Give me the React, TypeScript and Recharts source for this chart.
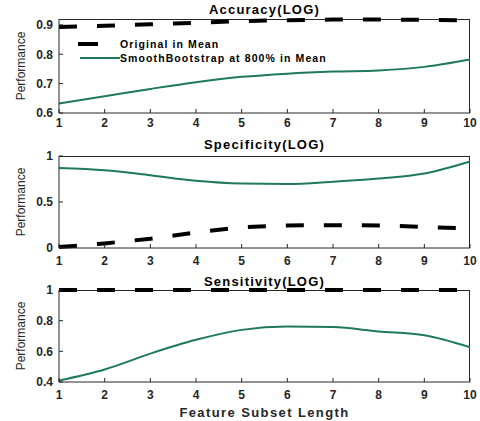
import React from 'react';
import { LineChart, Line, XAxis, YAxis } from 'recharts';

const featureLength = [1, 2, 3, 4, 5, 6, 7, 8, 9, 10];

const accOriginal = [0.893, 0.897, 0.902, 0.907, 0.913, 0.916, 0.918, 0.918, 0.917, 0.915];
const accSmooth = [0.632, 0.657, 0.682, 0.705, 0.723, 0.734, 0.741, 0.745, 0.757, 0.782];

const specOriginal = [0.01, 0.05, 0.1, 0.17, 0.225, 0.245, 0.248, 0.245, 0.23, 0.21];
const specSmooth = [0.87, 0.845, 0.79, 0.73, 0.7, 0.695, 0.72, 0.755, 0.81, 0.94];

const sensOriginal = [1, 1, 1, 1, 1, 1, 1, 1, 1, 1];
const sensSmooth = [0.41, 0.482, 0.585, 0.675, 0.74, 0.762, 0.758, 0.73, 0.705, 0.627];

const accTicks = [0.6, 0.7, 0.8, 0.9];
const specTicks = [0, 0.5, 1];
const sensTicks = [0.4, 0.6, 0.8, 1];

const GREEN = '#1f7a58';
const FONT = 'Arial, "Liberation Sans", Helvetica, sans-serif';

const toRows = (orig: number[], smooth: number[]) =>
  featureLength.map((x, i) => ({ x, orig: orig[i], smooth: smooth[i] }));

const tickStyle = { fontSize: 12, fontWeight: 700, fill: '#262626', fontFamily: FONT };

function LegendBox() {
  return (
    <div
      style={{
        position: 'absolute',
        left: 60,
        top: 37,
        fontFamily: FONT,
        fontSize: 10.5,
        fontWeight: 700,
        letterSpacing: 1.1,
        color: '#000',
        lineHeight: '14px',
        whiteSpace: 'nowrap',
      }}
    >
      <div style={{ display: 'flex', alignItems: 'center' }}>
        <div style={{ width: 20, height: 4, background: '#000', marginLeft: 18, marginRight: 22 }} />
        <span>Original in Mean</span>
      </div>
      <div style={{ display: 'flex', alignItems: 'center' }}>
        <div style={{ width: 40, height: 2, background: GREEN, marginLeft: 20 }} />
        <span>SmoothBootstrap at 800% in Mean</span>
      </div>
    </div>
  );
}

interface PanelProps {
  top: number;
  height: number;
  plotTop: number;
  plotBottom: number;
  title: string;
  titleY: number;
  rows: { x: number; orig: number; smooth: number }[];
  domain: [number, number];
  ticks: number[];
  xTickMargin: number;
  xLabel?: string;
  legend?: boolean;
}

function Panel({ top, height, plotTop, plotBottom, title, titleY, rows, domain, ticks, xTickMargin, xLabel, legend }: PanelProps) {
  const xAxisH = height - plotBottom;
  return (
    <div style={{ position: 'absolute', left: 0, top, width: 480, height }}>
      {/* axes box: top and right edges, behind the lines */}
      <div
        style={{
          position: 'absolute',
          left: 59,
          top: plotTop,
          width: 411,
          height: plotBottom - plotTop,
          borderTop: '1px solid #262626',
          borderRight: '1px solid #262626',
          boxSizing: 'border-box',
        }}
      />
      <div style={{ position: 'absolute', left: 0, top: 0 }}>
        <LineChart width={480} height={height} data={rows} margin={{ top: plotTop, right: 10, bottom: 0, left: 0 }}>
          <XAxis
            dataKey="x"
            type="number"
            domain={[1, 10]}
            ticks={featureLength}
            height={xAxisH}
            tickSize={-4}
            tickMargin={xTickMargin}
            tick={tickStyle}
            stroke="#262626"
            label={
              xLabel
                ? { value: xLabel, position: 'insideBottom', offset: 4, style: { fontSize: 13, fontWeight: 700, letterSpacing: 1.4, fill: '#262626', fontFamily: FONT } }
                : undefined
            }
          />
          <YAxis
            type="number"
            domain={domain}
            ticks={ticks}
            width={59}
            tickSize={-4}
            tickMargin={10}
            tick={tickStyle}
            stroke="#262626"
            label={{ value: 'Performance', angle: -90, position: 'insideLeft', offset: 21, style: { textAnchor: 'middle', fontSize: 12, fill: '#262626', fontFamily: FONT } }}
          />
          <Line dataKey="orig" type="linear" stroke="#000" strokeWidth={4} strokeDasharray="18 20" dot={false} isAnimationActive={false} />
          <Line dataKey="smooth" type="monotone" stroke={GREEN} strokeWidth={2} dot={false} isAnimationActive={false} />
        </LineChart>
      </div>
      {legend && <LegendBox />}
      <div
        style={{
          position: 'absolute',
          left: 59,
          width: 411,
          top: titleY - 8,
          textAlign: 'center',
          fontFamily: FONT,
          fontSize: 13,
          fontWeight: 700,
          letterSpacing: 1.2,
          color: '#000',
          lineHeight: '16px',
        }}
      >
        {title}
      </div>
    </div>
  );
}

export default function App() {
  return (
    <div style={{ position: 'absolute', left: 0, top: 0, width: 480, height: 421, background: '#fff', overflow: 'hidden' }}>
      <Panel
        top={0}
        height={140}
        plotTop={19}
        plotBottom={113}
        title="Accuracy(LOG)"
        titleY={10}
        rows={toRows(accOriginal, accSmooth)}
        domain={[0.6, 0.92]}
        ticks={accTicks}
        xTickMargin={9}
        legend
      />
      <Panel
        top={130}
        height={140}
        plotTop={26}
        plotBottom={118}
        title="Specificity(LOG)"
        titleY={15}
        rows={toRows(specOriginal, specSmooth)}
        domain={[0, 1]}
        ticks={specTicks}
        xTickMargin={12}
      />
      <Panel
        top={265}
        height={156}
        plotTop={25}
        plotBottom={117}
        title="Sensitivity(LOG)"
        titleY={17}
        rows={toRows(sensOriginal, sensSmooth)}
        domain={[0.4, 1]}
        ticks={sensTicks}
        xTickMargin={12}
        xLabel="Feature Subset Length"
      />
    </div>
  );
}
